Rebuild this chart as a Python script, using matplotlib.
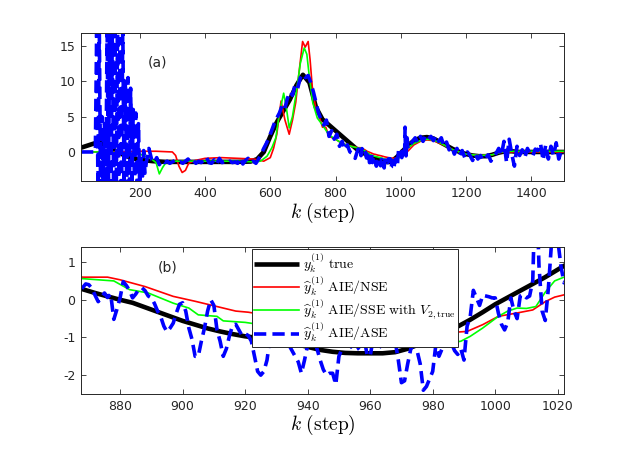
import numpy as np
import matplotlib
matplotlib.use("Agg")
import matplotlib.pyplot as plt

plt.rcParams['font.family'] = ['DejaVu Sans']
plt.rcParams['mathtext.fontset'] = 'cm'
plt.rcParams['axes.unicode_minus'] = False

# ---------------- data ----------------
k_true = [20, 40, 60, 80, 100, 120, 140, 160, 180, 200, 220, 240, 260, 280, 300, 340, 380, 420, 460, 500,
          540, 560, 580, 600, 620, 640, 660, 680, 700, 720, 740, 760, 780, 800, 820, 840, 860,
          868, 872, 876, 880, 884, 888, 892, 896, 900, 904, 908, 912, 916, 920, 924, 928, 932, 936,
          940, 944, 948, 952, 956, 960, 964, 968, 972, 976, 980, 984, 988, 992, 996, 1000, 1004,
          1008, 1012, 1016, 1020, 1022, 1040, 1060, 1080, 1100, 1120, 1140, 1160, 1180, 1200, 1220,
          1240, 1260, 1280, 1300, 1320, 1340, 1360, 1400, 1450, 1500]
y_true = [0.6, 0.9, 1.2, 1.3, 0.9, 0.3, -0.2, -0.6, -0.9, -1.1, -1.2, -1.3, -1.35, -1.4, -1.4, -1.4, -1.4, -1.4, -1.4, -1.4,
          -1.35, -1.0, 0.0, 2.2, 4.2, 5.8, 7.4, 9.4, 10.9, 9.8, 6.3, 4.6, 3.8, 3.0, 2.2, 1.4, 0.6,
          0.28, 0.18, 0.09, 0.0, -0.08, -0.2, -0.32, -0.44, -0.56, -0.66, -0.76, -0.84, -0.91, -0.97, -1.01, -1.05, -1.1, -1.17,
          -1.25, -1.33, -1.38, -1.41, -1.42, -1.42, -1.42, -1.39, -1.3, -1.17, -1.02, -0.87, -0.71, -0.53, -0.33, -0.12, 0.06,
          0.24, 0.42, 0.6, 0.8, 0.9, 1.6, 2.0, 2.1, 1.9, 1.4, 0.9, 0.4, 0.0, -0.3, -0.5,
          -0.6, -0.6, -0.4, -0.1, 0.1, 0.1, 0.0, 0.0, 0.0, 0.0]

k_nse = [20, 60, 100, 150, 200, 250, 300, 310, 320, 330, 340, 350, 370, 400, 450, 500, 550, 580, 600, 610,
         620, 633, 645, 658, 668, 678, 690, 699, 707, 716, 722, 729, 740, 750, 760, 770, 780, 800, 820, 840,
         860, 868, 876, 880, 888, 897, 904, 908, 911, 917, 921, 930, 940, 950, 960, 970, 980, 991, 996, 1001,
         1007, 1012, 1016, 1019, 1022, 1040, 1060, 1080, 1100, 1120, 1140, 1160, 1180, 1200, 1240, 1280, 1300,
         1320, 1400, 1500]
y_nse = [0.0, 0.0, 0.0, 0.0, 0.1, 0.1, 0.0, -0.5, -2.0, -2.9, -2.6, -1.6, -1.2, -0.9, -0.8, -0.9, -1.0, -1.3, -0.8, 0.5,
         2.5, 7.2, 4.5, 2.5, 4.5, 7.0, 12.0, 15.6, 14.8, 15.6, 13.0, 9.0, 6.0, 5.0, 3.5, 3.5, 2.2, 1.8, 1.2, 0.9,
         0.7, 0.6, 0.6, 0.53, 0.35, 0.09, -0.04, -0.12, -0.18, -0.3, -0.33, -0.45, -0.55, -0.68, -0.78, -0.86, -0.9, -0.84, -0.66, -0.44,
         -0.35, -0.27, -0.05, 0.07, 0.13, 1.0, 1.5, 1.7, 1.6, 1.2, 0.8, 0.3, 0.0, -0.3, -0.5, -0.4, -0.1,
         0.0, 0.0, 0.0]

k_sse = [20, 100, 200, 230, 250, 260, 270, 280, 300, 400, 500, 550, 570, 590, 605, 617, 628, 641, 650, 658,
         668, 680, 692, 704, 712, 719, 730, 744, 760, 780, 800, 820, 840, 860, 868, 878, 883, 889, 897, 902,
         905, 911, 913, 920, 930, 940, 950, 955, 959, 963, 968, 974, 979, 985, 989, 992, 996, 1001, 1004, 1007,
         1010, 1013, 1016, 1019, 1022, 1040, 1060, 1080, 1100, 1120, 1140, 1160, 1180, 1200, 1240, 1280, 1300,
         1320, 1400, 1500]
y_sse = [0.0, 0.0, -0.3, -0.8, -1.5, -3.1, -2.2, -1.5, -1.3, -1.3, -1.3, -1.4, -1.3, -0.6, 0.6, 2.0, 5.5, 8.3, 6.0, 3.4,
         5.0, 8.5, 12.5, 14.7, 13.8, 10.9, 7.0, 4.8, 3.8, 2.4, 1.8, 1.2, 0.9, 0.65, 0.56, 0.5, 0.27, 0.18, -0.09, -0.22,
         -0.4, -0.44, -0.56, -0.6, -0.72, -0.85, -1.0, -1.06, -1.2, -1.06, -1.02, -1.05, -1.15, -1.15, -1.1, -0.97, -0.75, -0.44, -0.3, -0.22,
         -0.23, -0.18, 0.2, 0.5, 0.6, 1.2, 1.6, 1.8, 1.7, 1.3, 0.8, 0.3, 0.0, -0.3, -0.5, -0.4, -0.1,
         0.1, 0.1, 0.1]

k_ase = np.concatenate([np.arange(20, 61, 8), np.arange(64, 221, 4), np.arange(228, 861, 8),
                        np.arange(868, 1023, 1), np.arange(1028, 1501, 8)])
y_ase = [
    # 20 .. 60, every 8 steps
    0, 0, 0, 0, 0, 0,
    # 64 .. 220, every 4 steps
    0, 17, -5, 18,
    -5, 5, -5, 4, -6,
    18, -5, 17, -6, 18, -5, 17, -6, 18, -5, 16, -6, 18, -5,
    10, -5, 10.5, -6, 9,
    -5, 6, -5, 5.5, -6, 4,
    -5, -1, -4, 0.2, -3, -1.5,
    # 228 .. 860, every 8 steps
    0.5, -1.0, -1.5, -0.8,
    -1.8, -1.2, -1.5, -1.3, -1.6, -1.4, -1.2, -1.5, -1.4, -1.6,
    -1.3, -1.0, -1.5, -1.2, -1.6, -1.3, -1.5, -1.2, -0.7, -1.5,
    -1.6, -1.1, -1.7, -0.9, -1.5, -1.4, -1.6, -1.3, -1.5, -1.4,
    -1.6, -0.8, -1.7, -1.2, -0.9, -1.5, -1.3, -1.6, -1.0, -0.3,
    0.5, 1.2, 2.0, 3.0, 4.0, 4.8, 5.5, 6.5, 6.0, 7.5,
    8.5, 8.0, 9.5, 9.0, 10.5, 11.0, 10.5, 10.8, 9.8, 8.5,
    7.0, 5.5, 4.5, 3.8, 4.5, 2.2, 3.0, 1.8, 2.5, 0.8,
    1.5, 0.3, 1.0, 0.0, -0.2, -0.9,
    # 868 .. 1022, every step
    0.32, 0.42, 0.40, 0.30, 0.12, -0.05, 0.05, 0.18, 0.06, 0.15,
    -0.52, -0.25, 0.05, 0.48, 0.38, 0.25, 0.05, 0.15, 0.28, 0.32,
    0.24, 0.10, 0.05, -0.10, -0.30, -0.45, -0.70, -0.85, -0.75, -0.62,
    -0.35, -0.12, -0.08, -0.30, -0.75, -1.05, -1.50, -1.50, -1.10, -0.75,
    -0.30, 0.00, -0.15, -0.80, -1.10, -1.50, -1.30, -0.95, -0.68, -0.65,
    -0.80, -0.95, -0.90, -0.95, -1.10, -1.50, -1.90, -2.00, -1.90, -1.60,
    -1.00, -0.90, -0.85, -0.95, -1.05, -1.10, -1.20, -1.35, -1.50, -1.65,
    -1.95, -1.60, -1.20, -1.08, -1.05, -1.30, -1.60, -1.85, -2.00, -1.95,
    -1.95, -2.25, -1.50, -1.30, -1.15, -1.20, -1.25, -1.35, -1.30, -1.20,
    -1.00, -1.45, -1.50, -1.00, -1.05, -1.20, -1.30, -1.20, -1.00, -0.95,
    -1.10, -1.60, -2.20, -2.15, -1.70, -1.30, -1.20, -1.35, -1.70, -2.40,
    -2.30, -2.10, -1.90, -1.20, -1.50, -1.30, -1.00, -1.00, -1.15, -1.35,
    -1.45, -1.30, -1.60, -0.70, -0.45, 0.25, 0.05, -0.15, 0.12, 0.10,
    0.08, 0.05, 0.05, -0.35, -0.65, -0.80, -0.60, 0.05, -0.30, -0.50,
    0.10, 0.15, 0.05, 0.10, 0.50, 3.50, 0.90, -0.30, -0.55, 0.30,
    1.50, 2.00, 1.60, 0.90, 0.45,
    # 1028 .. 1500, every 8 steps
    1.0, 1.5, 2.0, 1.3, 2.2, 1.5, 2.3, 1.8, 2.2, 1.6,
    2.3, 1.5, 2.0, 0.8, 1.4, 0.3, 0.8, -0.3, 0.5, -0.5,
    0.2, -0.8, 0.0, -0.5, -1.2, -0.3, -1.0, -0.5, -1.2, -0.8,
    -0.4, -1.3, -0.6, -0.2, 0.5, -0.5, 1.5, -1.5, 1.8, -0.3,
    -2.0, 0.8, -0.5, 0.3, -0.8, 0.5, -0.3, -0.6, 0.4, 0.2,
    1.2, -1.2, 1.0, -1.0, 0.8, -0.5, 1.3, -1.0, 0.2, -0.2,
]

labels = [r'$y_k^{(1)}\ \mathrm{true}$',
          r'$\widehat{y}_k^{(1)}\ \mathrm{AIE/NSE}$',
          r'$\widehat{y}_k^{(1)}\ \mathrm{AIE/SSE\ with}\ V_{2,\mathrm{true}}$',
          r'$\widehat{y}_k^{(1)}\ \mathrm{AIE/ASE}$']

xticks_a = [200, 400, 600, 800, 1000, 1200, 1400]
yticks_a = [0, 5, 10, 15]
xticks_b = [880, 900, 920, 940, 960, 980, 1000, 1020]
yticks_b = [-2, -1, 0, 1]

# ---------------- figure ----------------
W, H = 623, 451
fig = plt.figure(figsize=(W / 100, H / 100), dpi=100)
ax_a = fig.add_axes([81 / W, 1 - 181 / H, 483 / W, 148 / H])
ax_b = fig.add_axes([81 / W, 1 - 394 / H, 483 / W, 147 / H])

edge = '#262626'


def draw(ax):
    ax.plot(k_true, y_true, color='black', lw=3.3, label=labels[0], solid_capstyle='butt')
    ax.plot(k_nse, y_nse, color=(1, 0, 0), lw=1.2, label=labels[1])
    ax.plot(k_sse, y_sse, color=(0, 1, 0), lw=1.2, label=labels[2])
    ax.plot(k_ase, y_ase, color=(0, 0, 1), lw=2.6, ls=(0, (3.4, 1.7)), label=labels[3])
    ax.tick_params(direction='in', top=True, right=True, length=3.5, width=0.6,
                   labelsize=9, colors=edge, pad=4)
    for s in ax.spines.values():
        s.set_linewidth(0.7)
        s.set_color(edge)


draw(ax_a)
ax_a.set_xlim(20, 1500)
ax_a.set_ylim(-4.1, 16.8)
ax_a.set_xticks(xticks_a)
ax_a.set_yticks(yticks_a)
ax_a.set_xlabel(r'$k\ \mathrm{(step)}$', fontsize=14, labelpad=1)
ax_a.text(225, 12.7, '(a)', fontsize=10, va='center', ha='left', color=edge)

draw(ax_b)
ax_b.set_xlim(867.5, 1022)
ax_b.set_ylim(-2.5, 1.4)
ax_b.set_xticks(xticks_b)
ax_b.set_yticks(yticks_b)
ax_b.set_xlabel(r'$k\ \mathrm{(step)}$', fontsize=14, labelpad=0)
ax_b.text(892, 0.85, '(b)', fontsize=10, va='center', ha='left', color=edge)

leg = ax_b.legend(loc='upper left', bbox_to_anchor=(0.354, 0.985), fontsize=10,
                  frameon=True, fancybox=False, framealpha=1, edgecolor=edge,
                  handlelength=3.2, handletextpad=0.35, borderpad=0.15,
                  labelspacing=0.0, borderaxespad=0)
leg.get_frame().set_linewidth(0.7)

fig.savefig('out.png', dpi=100)
